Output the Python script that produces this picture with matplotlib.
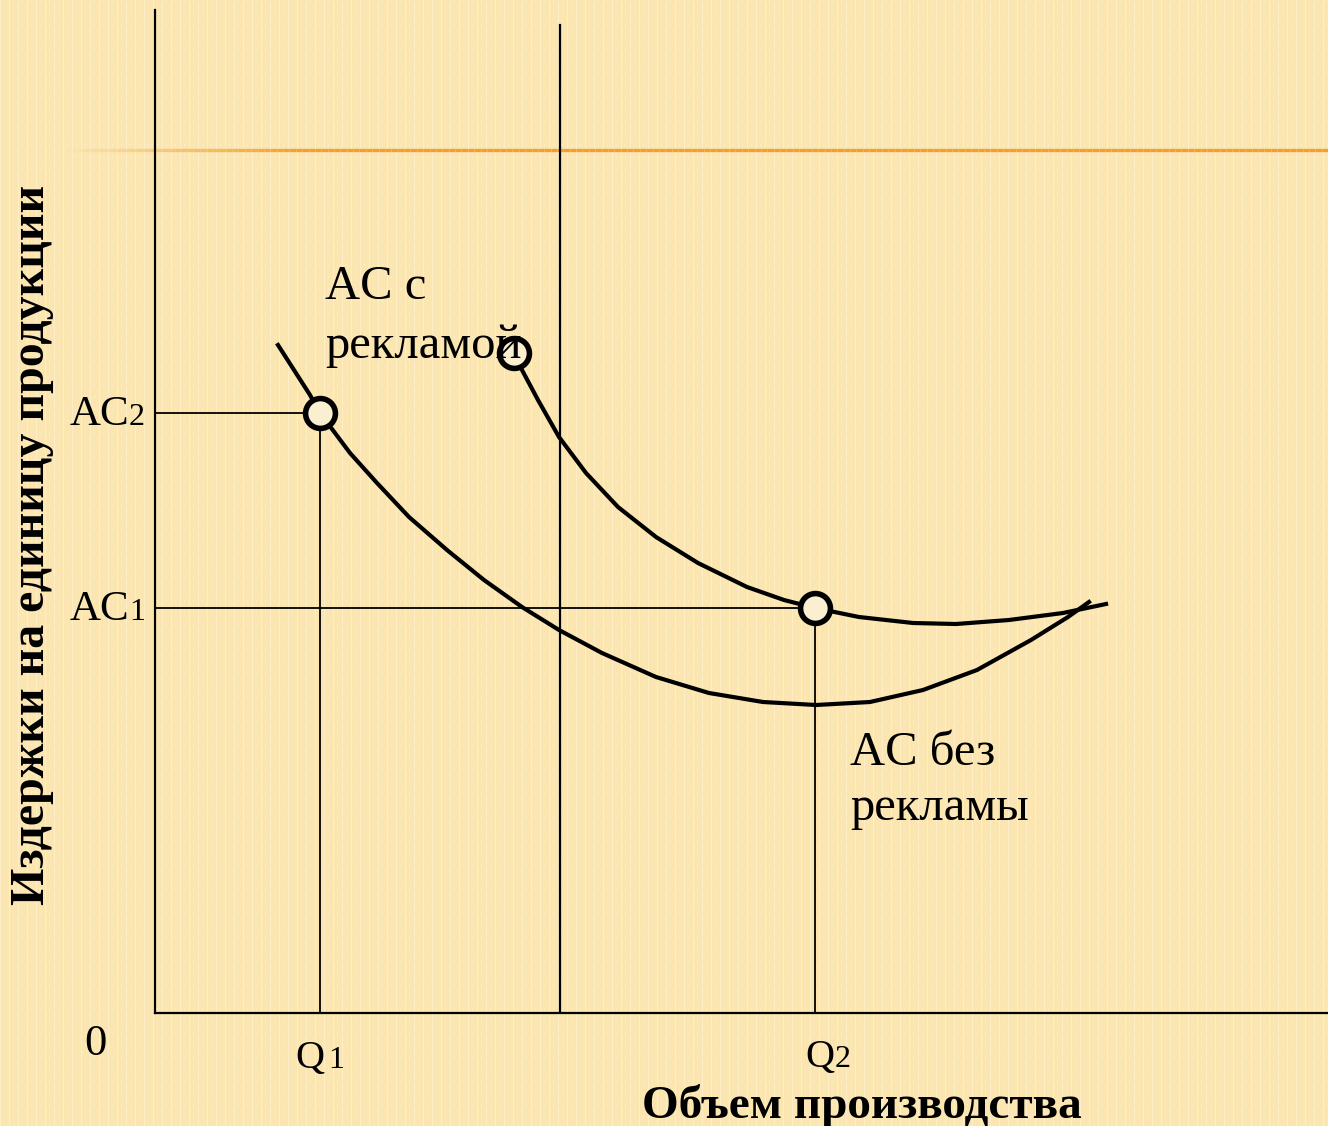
import matplotlib.pyplot as plt
import numpy as np

plt.rcParams['font.family'] = ['Liberation Serif', 'DejaVu Serif']

# output quantity / unit cost, 1 unit = 100 px
q1, q2 = 1.65, 6.60
ac1, ac2 = 4.05, 6.00
q_mid = 4.05  # vertical reference line

# AC without advertising
ac_plain_x = [1.23, 1.55, 1.65, 1.95, 2.22, 2.54, 2.92, 3.29, 3.67, 4.04, 4.47,
              5.01, 5.54, 6.08, 6.61, 7.15, 7.68, 8.22, 8.76, 9.13, 9.34]
ac_plain_y = [6.68, 6.18, 6.00, 5.60, 5.30, 4.96, 4.63, 4.33, 4.06, 3.83, 3.60,
              3.36, 3.20, 3.11, 3.08, 3.11, 3.23, 3.43, 3.73, 3.96, 4.11]

# AC with advertising
ac_adv_x = [3.59, 3.67, 3.83, 4.04, 4.31, 4.63, 5.01, 5.43, 5.92, 6.29, 6.60,
            7.04, 7.58, 8.01, 8.54, 9.08, 9.51]
ac_adv_y = [6.60, 6.43, 6.13, 5.76, 5.40, 5.06, 4.76, 4.50, 4.26, 4.13, 4.05,
            3.96, 3.90, 3.89, 3.93, 4.00, 4.09]

# marked points
dots_x = [q1, 3.59, q2]
dots_y = [ac2, 6.60, ac1]

bg = '#fbe6b2'
W, H = 1328, 1126
fig = plt.figure(figsize=(W / 100, H / 100), dpi=100, facecolor=bg)

# faint striped paper texture
tex = np.empty((H, W, 3))
tex[:] = np.array([251, 230, 178]) / 255
cols = np.arange(W) % 9 == 0
tex[:, cols] = np.array([253, 238, 200]) / 255
rows = np.arange(H) % 12 < 2
tex[np.ix_(rows, np.arange(W) % 9 == 4)] = np.array([253, 238, 200]) / 255
fig.figimage(tex, 0, 0, zorder=-10)

ax = fig.add_axes([155 / W, 113 / H, 1173 / W, 1013 / H])
ax.set_xlim(0, 11.73)
ax.set_ylim(0, 10.13)
ax.axis('off')

# orange rule fading in from the left
xs = np.linspace(-0.95, 11.73, 200)
for i in range(len(xs) - 1):
    a = min(1.0, max(0.0, (xs[i] + 0.95) / 2.4))
    ax.plot(xs[i:i + 2], [8.63, 8.63], color='#f0a030', lw=2.4, alpha=a,
            solid_capstyle='butt', clip_on=False)

# axes
ax.plot([0, 0], [0, 10.03], color='black', lw=1.6, clip_on=False)
ax.plot([0, 11.73], [0, 0], color='black', lw=1.6, clip_on=False)
ax.plot([q_mid, q_mid], [0, 9.88], color='black', lw=1.6)

# guide lines
ax.plot([0, q1, q1], [ac2, ac2, 0], color='black', lw=1.3)
ax.plot([0, q2, q2], [ac1, ac1, 0], color='black', lw=1.3)

# cost curves
ax.plot(ac_plain_x, ac_plain_y, color='black', lw=3, solid_joinstyle='round')
ax.plot(ac_adv_x, ac_adv_y, color='black', lw=3, solid_joinstyle='round')

ax.plot(dots_x, dots_y, 'o', ms=21.5, mfc='#fbefd2', mec='black', mew=4, zorder=5)

fs = 35
ax.text(1.70, 7.14, 'AC с', fontsize=fs, zorder=6)
ax.text(1.70, 6.55, 'рекламой', fontsize=fs, zorder=6)
ax.text(6.95, 2.48, 'AC без', fontsize=fs)
ax.text(6.95, 1.93, 'рекламы', fontsize=fs)

# tick-style labels with small indices
ax.text(-0.26, 5.88, 'AC', fontsize=31, ha='right', clip_on=False)
ax.text(-0.26, 5.88, '2', fontsize=23, ha='left', clip_on=False)
ax.text(-0.26, 3.93, 'AC', fontsize=31, ha='right', clip_on=False)
ax.text(-0.26, 3.93, '1', fontsize=23, ha='left', clip_on=False)
ax.text(-0.60, -0.42, '0', fontsize=32, ha='center', clip_on=False)
ax.text(1.40, -0.55, 'Q', fontsize=29, ha='left', clip_on=False)
ax.text(1.73, -0.55, '1', fontsize=23, ha='left', clip_on=False)
ax.text(6.50, -0.54, 'Q', fontsize=29, ha='left', clip_on=False)
ax.text(6.80, -0.54, '2', fontsize=23, ha='left', clip_on=False)

ax.text(7.07, -1.05, 'Объем производства', fontsize=34, fontweight='bold',
        ha='center', clip_on=False)
ax.text(-1.23, 4.68, 'Издержки на единицу продукции', fontsize=34.5,
        fontweight='bold', rotation=90, ha='center', va='center', clip_on=False)

fig.savefig('out.png', dpi=100, facecolor=bg)
